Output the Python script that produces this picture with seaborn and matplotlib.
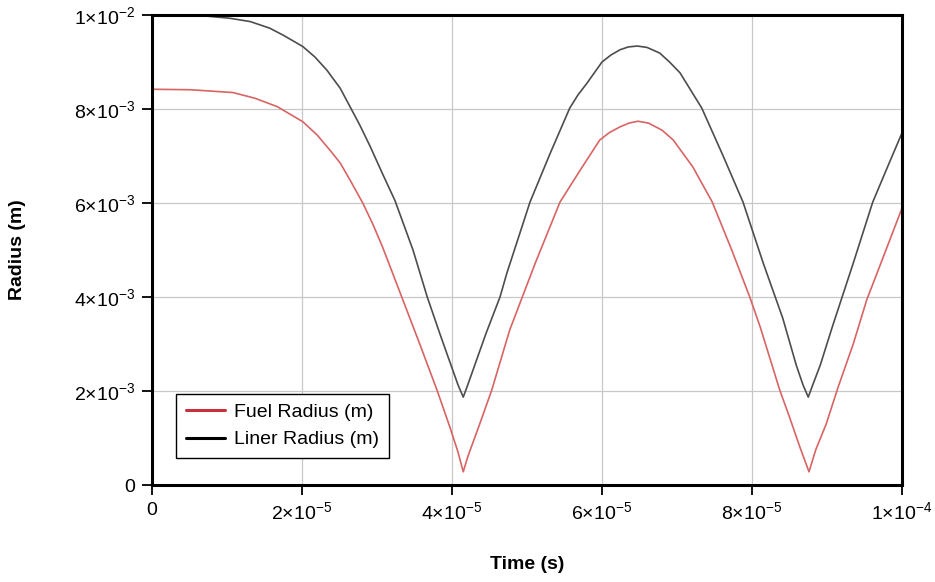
import numpy as np
import pandas as pd
import seaborn as sns
import matplotlib.pyplot as plt
from matplotlib.lines import Line2D

# values (time in units of 1e-5 s, radius in units of 1e-3 m)
liner_t = [0.00, 0.64, 1.04, 1.31, 1.57, 1.75, 2.01, 2.17, 2.33, 2.51, 2.64, 2.77, 2.91, 3.08,
           3.24, 3.48, 3.67, 3.84, 4.00, 4.08, 4.15, 4.21, 4.29, 4.45, 4.64, 4.73, 5.04, 5.31,
           5.57, 5.68, 5.80, 6.00, 6.12, 6.24, 6.35, 6.47, 6.60, 6.77, 6.90, 7.04, 7.33, 7.61,
           7.88, 8.15, 8.41, 8.59, 8.68, 8.75, 8.81, 8.91, 9.07, 9.35, 9.61, 9.80, 10.00]
liner_r = [10.00, 9.99, 9.93, 9.86, 9.72, 9.57, 9.33, 9.11, 8.83, 8.44, 8.05, 7.66, 7.20, 6.60,
           6.05, 5.00, 4.00, 3.21, 2.49, 2.13, 1.87, 2.13, 2.49, 3.21, 4.00, 4.50, 6.02, 7.06,
           8.02, 8.30, 8.55, 9.00, 9.15, 9.26, 9.32, 9.34, 9.31, 9.19, 9.00, 8.77, 8.02, 7.02,
           6.02, 4.72, 3.55, 2.55, 2.13, 1.87, 2.13, 2.55, 3.36, 4.72, 6.02, 6.74, 7.49]

fuel_t = [0.00, 0.51, 1.08, 1.37, 1.67, 2.01, 2.20, 2.37, 2.51, 2.64, 2.81, 2.95, 3.08, 3.33,
          3.57, 3.80, 3.97, 4.08, 4.15, 4.21, 4.37, 4.53, 4.77, 5.11, 5.44, 5.71, 5.97, 6.10,
          6.24, 6.36, 6.48, 6.62, 6.80, 6.95, 7.21, 7.47, 7.73, 7.97, 8.11, 8.37, 8.51, 8.64,
          8.76, 8.85, 8.99, 9.15, 9.35, 9.53, 9.75, 10.00]
fuel_r = [8.42, 8.41, 8.35, 8.23, 8.05, 7.73, 7.45, 7.13, 6.85, 6.49, 6.00, 5.53, 5.04, 4.00,
          3.00, 2.02, 1.24, 0.70, 0.28, 0.60, 1.30, 2.02, 3.30, 4.72, 6.02, 6.70, 7.34, 7.50,
          7.62, 7.70, 7.74, 7.70, 7.55, 7.34, 6.77, 6.02, 5.00, 4.00, 3.36, 2.02, 1.40, 0.80,
          0.28, 0.75, 1.30, 2.09, 3.00, 3.94, 4.85, 5.89]

series_names = ['Fuel Radius (m)', 'Liner Radius (m)']
x_ticks = [0, 2e-5, 4e-5, 6e-5, 8e-5, 1e-4]
x_ticklabels = ['0', r'$2{\times}10^{-5}$', r'$4{\times}10^{-5}$', r'$6{\times}10^{-5}$',
                r'$8{\times}10^{-5}$', r'$1{\times}10^{-4}$']
y_ticks = [0, 2e-3, 4e-3, 6e-3, 8e-3, 1e-2]
y_ticklabels = ['0', r'$2{\times}10^{-3}$', r'$4{\times}10^{-3}$', r'$6{\times}10^{-3}$',
                r'$8{\times}10^{-3}$', r'$1{\times}10^{-2}$']

df = pd.concat([
    pd.DataFrame({'t': np.array(fuel_t) * 1e-5, 'r': np.array(fuel_r) * 1e-3, 'series': series_names[0]}),
    pd.DataFrame({'t': np.array(liner_t) * 1e-5, 'r': np.array(liner_r) * 1e-3, 'series': series_names[1]}),
])

sns.set_style('white')
plt.rcParams['font.family'] = ['Liberation Sans', 'DejaVu Sans']
plt.rcParams['mathtext.fontset'] = 'custom'
plt.rcParams['mathtext.rm'] = 'Liberation Sans'
plt.rcParams['mathtext.it'] = 'Liberation Sans:italic'
plt.rcParams['mathtext.bf'] = 'Liberation Sans:bold'
plt.rcParams['text.color'] = 'black'
plt.rcParams['axes.labelcolor'] = 'black'
plt.rcParams['xtick.color'] = 'black'
plt.rcParams['ytick.color'] = 'black'

fig = plt.figure(figsize=(9.35, 5.82), dpi=100)
ax = fig.add_axes([152/935, 97/582, 750/935, 470/582])

palette = {series_names[0]: '#d86464', series_names[1]: '#4d4d4d'}
sns.lineplot(data=df, x='t', y='r', hue='series', palette=palette, sort=False,
             linewidth=1.2, legend=False, ax=ax)

ax.set_xlim(0, 1e-4)
ax.set_ylim(0, 1e-2)
ax.set_xticks(x_ticks)
ax.set_xticklabels(x_ticklabels, fontsize=14)
ax.set_yticks(y_ticks)
ax.set_yticklabels(y_ticklabels, fontsize=14)
ax.grid(True, color='#c8c8c8', linewidth=0.9)
ax.set_axisbelow(True)
for s in ax.spines.values():
    s.set_color('black')
    s.set_linewidth(2.2)
ax.tick_params(axis='both', direction='out', length=7, width=1.3, color='black',
               labelcolor='black', bottom=True, left=True, pad=5)

ax.set_xlabel('Time (s)', fontsize=14, fontweight='bold', va='center', color='black')
ax.set_ylabel('Radius (m)', fontsize=14, fontweight='bold', va='center', color='black')
ax.xaxis.set_label_coords(0.5, -0.17)
ax.yaxis.set_label_coords(-0.179, 0.5)

handles = [Line2D([0], [0], color='#c8303c', linewidth=2.2),
           Line2D([0], [0], color='black', linewidth=2.2)]
leg = ax.legend(handles, series_names, loc='lower left', bbox_to_anchor=(0.032, 0.057),
                borderaxespad=0, fontsize=14, frameon=True, fancybox=False, framealpha=1,
                edgecolor='black', handlelength=2.0, handletextpad=0.5,
                borderpad=0.5, labelspacing=0.5, labelcolor='black')
leg.get_frame().set_linewidth(1.0)

fig.savefig('out.png', dpi=100)
